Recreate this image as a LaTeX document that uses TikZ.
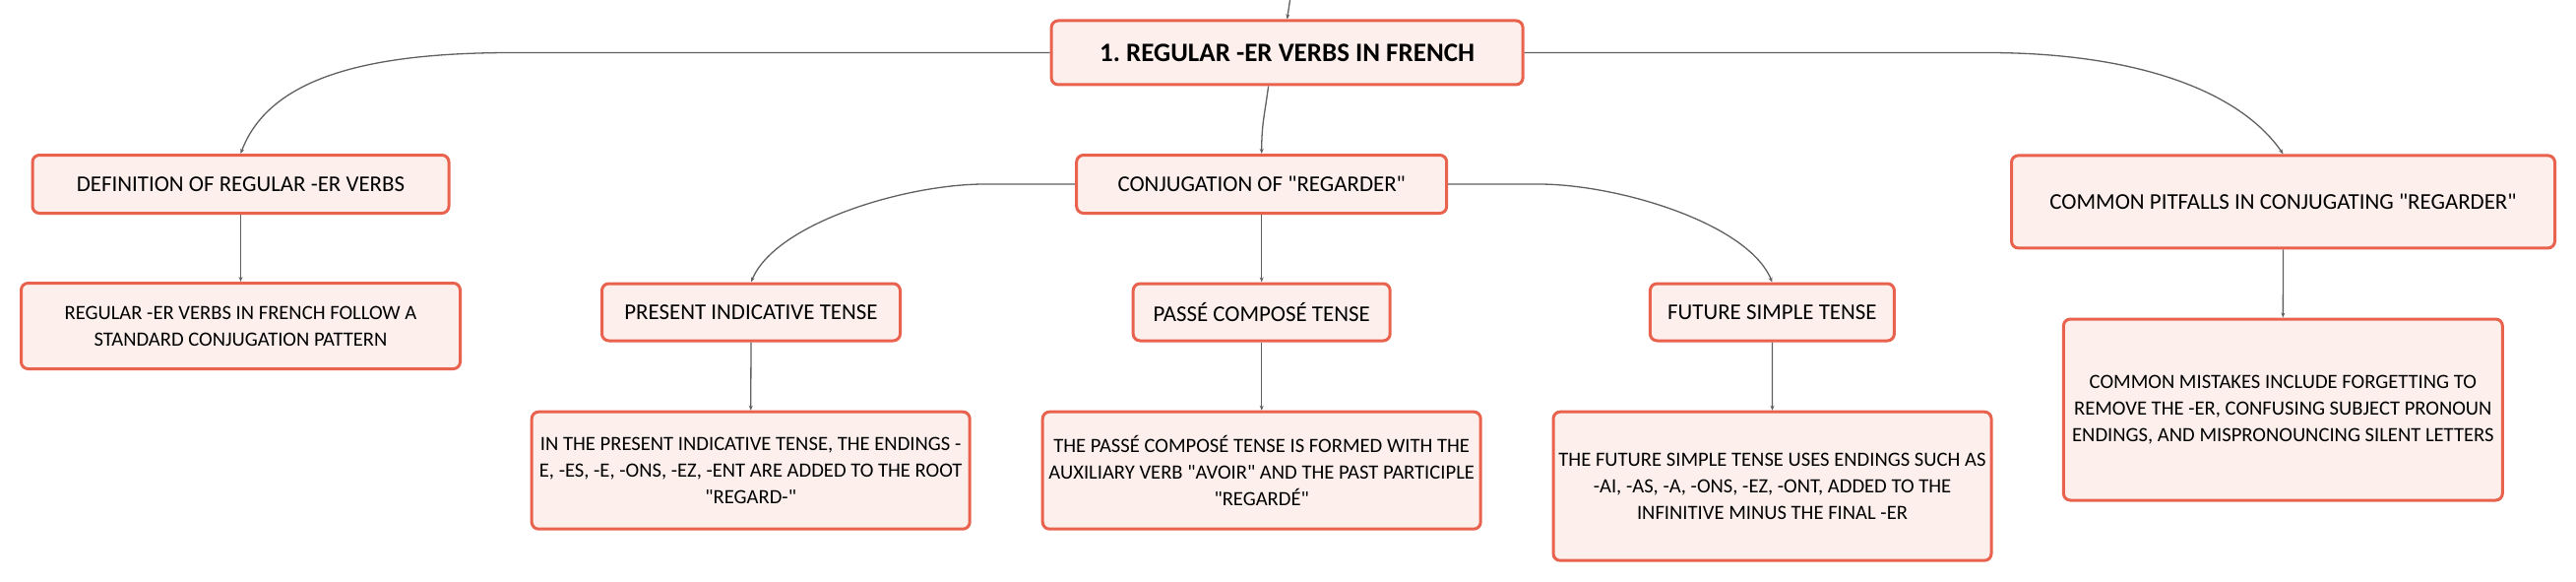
\documentclass[tikz,border=0pt]{standalone}
\usepackage{fontspec}
\newfontfamily\mapfont{Carlito}
\usetikzlibrary{arrows.meta}
\definecolor{boxline}{HTML}{E8624E}
\definecolor{boxfill}{HTML}{FDF0EC}
\definecolor{linkgray}{HTML}{606060}
\begin{document}
\begin{tikzpicture}[x=1pt, y=-1pt,
	topic/.style={draw=boxline, fill=boxfill, line width=3pt, rounded corners=7pt, inner sep=0pt, align=center, font=\mapfont\fontsize{22.9}{27}\selectfont},
	note/.style={topic, font=\mapfont\fontsize{20.6}{27}\selectfont},
	main/.style={topic, font=\mapfont\fontsize{27}{30}\selectfont\bfseries},
	link/.style={draw=linkgray, line width=1.3pt, -{Stealth[length=5pt,width=4pt]}}]
	\useasboundingbox (0,0) rectangle (2617,591);
	\coordinate (T) at (1312,-10);
	\node[main, minimum width=479pt, minimum height=65pt] (root) at (1307.6,53.5) {1.\ REGULAR -ER VERBS IN FRENCH};
	\node[topic, minimum width=423pt, minimum height=59pt] (def) at (244.5,187) {DEFINITION OF REGULAR -ER VERBS};
	\node[note, minimum width=446pt, minimum height=87pt] (defd) at (244.5,331) {REGULAR -ER VERBS IN FRENCH FOLLOW A\\STANDARD CONJUGATION PATTERN};
	\node[topic, minimum width=376pt, minimum height=59pt] (conj) at (1281.7,187) {CONJUGATION OF "REGARDER"};
	\node[topic, minimum width=303pt, minimum height=58pt] (pres) at (763,317) {PRESENT INDICATIVE TENSE};
	\node[note, minimum width=445pt, minimum height=119pt] (presd) at (762.7,477.7) {IN THE PRESENT INDICATIVE TENSE, THE ENDINGS -\\E, -ES, -E, -ONS, -EZ, -ENT ARE ADDED TO THE ROOT\\"REGARD-"};
	\node[topic, minimum width=261pt, minimum height=58pt] (passe) at (1281.7,317) {PASSÉ COMPOSÉ TENSE};
	\node[note, minimum width=445pt, minimum height=119pt] (passed) at (1281.7,477.7) {THE PASSÉ COMPOSÉ TENSE IS FORMED WITH THE\\AUXILIARY VERB "AVOIR" AND THE PAST PARTICIPLE\\"REGARDÉ"};
	\node[topic, minimum width=248pt, minimum height=58pt] (fut) at (1800.4,317) {FUTURE SIMPLE TENSE};
	\node[note, minimum width=445pt, minimum height=151pt] (futd) at (1800.5,493.7) {THE FUTURE SIMPLE TENSE USES ENDINGS SUCH AS\\-AI, -AS, -A, -ONS, -EZ, -ONT, ADDED TO THE\\INFINITIVE MINUS THE FINAL -ER};
	\node[topic, minimum width=552pt, minimum height=94pt] (pit) at (2319.5,204.9) {COMMON PITFALLS IN CONJUGATING "REGARDER"};
	\node[note, minimum width=446pt, minimum height=184pt] (pitd) at (2319.3,416) {COMMON MISTAKES INCLUDE FORGETTING TO\\REMOVE THE -ER, CONFUSING SUBJECT PRONOUN\\ENDINGS, AND MISPRONOUNCING SILENT LETTERS};
	% links
	\draw[link] (T) -- (root.north);
	\draw[link] (root.west) -- ++(-546,0) .. controls +(-140,0) and +(30,-80) .. (def.north);
	\draw[link] ([xshift=-19pt]root.south) .. controls +(-4,30) and +(0,-30) .. (conj.north);
	\draw[link] (root.east) -- ++(470,0) .. controls +(150,0) and +(-45,-65) .. (pit.north);
	\draw[link] (def.south) -- (defd.north);
	\draw[link] (conj.west) -- ++(-92,0) .. controls +(-80,0) and +(25,-60) .. (pres.north);
	\draw[link] (conj.south) -- (passe.north);
	\draw[link] (conj.east) -- ++(92,0) .. controls +(80,0) and +(-25,-60) .. (fut.north);
	\draw[link] (pres.south) -- (presd.north);
	\draw[link] (passe.south) -- (passed.north);
	\draw[link] (fut.south) -- (futd.north);
	\draw[link] (pit.south) -- (pitd.north);
\end{tikzpicture}
\end{document}
